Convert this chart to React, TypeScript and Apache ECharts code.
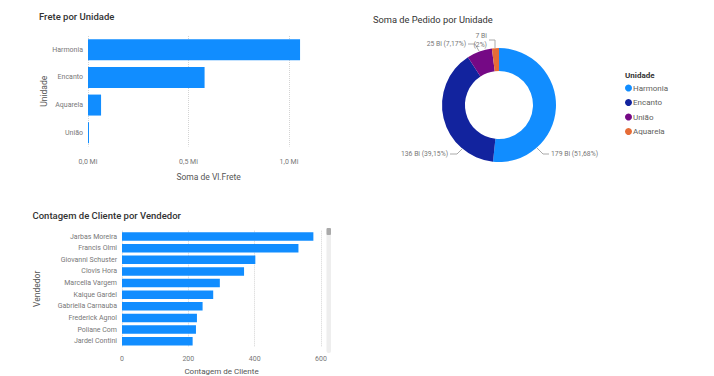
import React, { useEffect, useRef } from 'react';
import * as echarts from 'echarts';

// ---- Data ----
const unidades = ['Harmonia', 'Encanto', 'Aquarela', 'União'];
const freteMi = [1.055, 0.58, 0.065, 0.005];
const freteTicks = [0, 0.5, 1.0];

const pieUnidades = ['Harmonia', 'Encanto', 'União', 'Aquarela'];
const pedidoBi = [179.0, 135.6, 24.84, 6.93];
const pieColors = ['#118DFF', '#12239E', '#750985', '#E66C37'];

const vendedores = [
  'Jarbas Moreira', 'Francis Olmi', 'Giovanni Schuster', 'Clovis Hora', 'Marcella Vargem',
  'Kaique Gardel', 'Gabriella Carnauba', 'Frederick Agnol', 'Poliane Com', 'Jardel Contini',
];
const clientes = [577, 532, 402, 368, 295, 275, 243, 226, 223, 213];

const FONT = 'Roboto, "Noto Sans", sans-serif';
const BAR = '#118DFF';
const TICK = '#777777';
const NAME = '#555555';
const TITLE = '#333333';

const total = pedidoBi.reduce((a, b) => a + b, 0);
const pctText = (v: number) => {
  let s = ((v / total) * 100).toFixed(2);
  s = s.replace(/\.?0+$/, '');
  return s.replace('.', ',') + '%';
};

// label placement for the donut (style, not data)
const pieLabelLayout = [
  { x: 551, y: 154, align: 'left', line: [[537, 148], [543, 154], [549, 154]] },
  { x: 448, y: 154, align: 'right', line: [[462, 149], [457, 154], [450, 154]] },
  { x: 466, y: 44, align: 'right', line: [[479, 51], [475, 44], [468, 44]] },
  { x: 487, y: 40, align: 'right', line: [[495, 48], [495, 40], [489, 40]] },
];

export default function App() {
  const ref = useRef<HTMLDivElement>(null);
  useEffect(() => {
    if (!ref.current) return;
    const chart = echarts.init(ref.current, undefined, { renderer: 'svg' });
    const option: any = {
      animation: false,
      backgroundColor: '#ffffff',
      textStyle: { fontFamily: FONT },
      title: [
        { text: 'Frete por Unidade', left: 39, top: 11, padding: 0, textStyle: { fontSize: 9.5, fontWeight: 500, color: TITLE, fontFamily: FONT } },
        { text: 'Soma de Pedido por Unidade', left: 373, top: 15, padding: 0, textStyle: { fontSize: 9.3, fontWeight: 'normal', color: TITLE, fontFamily: FONT } },
        { text: 'Contagem de Cliente por Vendedor', left: 32.5, top: 210, padding: 0, textStyle: { fontSize: 9.5, fontWeight: 500, color: TITLE, fontFamily: FONT } },
        { text: 'Unidade', left: 625, top: 71.5, padding: 0, textStyle: { fontSize: 8, fontWeight: 'bold', color: TITLE, fontFamily: FONT } },
      ],
      legend: {
        orient: 'vertical',
        left: 625,
        top: 84,
        padding: 0,
        icon: 'circle',
        itemWidth: 7,
        itemHeight: 7,
        itemGap: 6.5,
        data: pieUnidades,
        textStyle: { fontSize: 8, color: '#605E5C', fontFamily: FONT, padding: [0, 0, 0, -4] },
      },
      grid: [
        { left: 88, right: 714 - 329.2, top: 36, bottom: 376 - 146.5, containLabel: false },
        { left: 122, right: 714 - 321, top: 230.7, bottom: 376 - 350, containLabel: false },
      ],
      xAxis: [
        {
          gridIndex: 0, type: 'value', min: 0, max: 1.2, interval: 0.5,
          name: 'Soma de Vl.Frete', nameLocation: 'middle', nameGap: 26,
          nameTextStyle: { fontSize: 8.5, color: NAME, fontFamily: FONT },
          axisLine: { show: false }, axisTick: { show: false },
          axisLabel: {
            fontSize: 7, color: TICK, margin: 12, fontFamily: FONT, showMaxLabel: false,
            formatter: (v: number) => (freteTicks.some((t) => Math.abs(t - v) < 1e-9) ? v.toFixed(1).replace('.', ',') + ' Mi' : ''),
          },
          splitLine: { show: true, showMaxLine: false, lineStyle: { type: 'dotted', color: '#d4d4d4', width: 1 } },
        },
        {
          gridIndex: 1, type: 'value', min: 0, max: 600, interval: 200,
          name: 'Contagem de Cliente', nameLocation: 'middle', nameGap: 20,
          nameTextStyle: { fontSize: 8, color: NAME, fontFamily: FONT },
          axisLine: { show: false }, axisTick: { show: false },
          axisLabel: { fontSize: 7, color: TICK, margin: 8, fontFamily: FONT },
          splitLine: { show: true, lineStyle: { type: 'dotted', color: '#d4d4d4', width: 1 } },
        },
      ],
      yAxis: [
        {
          gridIndex: 0, type: 'category', data: unidades, inverse: true,
          name: 'Unidade', nameLocation: 'middle', nameGap: 40, nameRotate: 90,
          nameTextStyle: { fontSize: 8.5, color: NAME, fontFamily: FONT },
          axisLine: { show: false }, axisTick: { show: false },
          axisLabel: { fontSize: 7, color: TICK, margin: 5, fontFamily: FONT },
        },
        {
          gridIndex: 1, type: 'category', data: vendedores, inverse: true,
          name: 'Vendedor', nameLocation: 'middle', nameGap: 81, nameRotate: 90,
          nameTextStyle: { fontSize: 8.5, color: NAME, fontFamily: FONT },
          axisLine: { show: false }, axisTick: { show: false },
          axisLabel: { fontSize: 7, color: TICK, margin: 5, fontFamily: FONT },
        },
      ],
      series: [
        {
          type: 'bar', xAxisIndex: 0, yAxisIndex: 0, data: freteMi,
          barCategoryGap: '24%', itemStyle: { color: BAR },
        },
        {
          type: 'bar', xAxisIndex: 1, yAxisIndex: 1, data: clientes,
          barCategoryGap: '27%', itemStyle: { color: BAR },
        },
        {
          type: 'pie',
          center: [499, 105],
          radius: [34, 57],
          startAngle: 90,
          clockwise: true,
          avoidLabelOverlap: false,
          data: pieUnidades.map((n, i) => ({ name: n, value: pedidoBi[i], itemStyle: { color: pieColors[i] } })),
          label: {
            show: true,
            fontSize: 6.8,
            lineHeight: 9,
            color: TICK,
            fontFamily: FONT,
            formatter: (p: any) => {
              const v = Math.round(p.value) + ' Bi';
              const pc = '(' + pctText(p.value) + ')';
              return p.dataIndex === 3 ? v + '\n' + pc : v + ' ' + pc;
            },
          },
          labelLine: { show: true, lineStyle: { color: '#aaaaaa', width: 1 } },
          labelLayout: (params: any) => {
            const l = pieLabelLayout[params.dataIndex];
            return {
              x: l.x, y: l.y, align: l.align, verticalAlign: 'middle',
              labelLinePoints: l.line,
            };
          },
        },
      ],
      graphic: [
        { type: 'rect', shape: { x: 326.5, y: 228, width: 4.5, height: 125, r: 2 }, style: { fill: '#eeeeee' } },
        { type: 'rect', shape: { x: 326.5, y: 228, width: 4.5, height: 7, r: 1 }, style: { fill: '#aaaaaa' } },
      ],
    };
    chart.setOption(option);
    return () => chart.dispose();
  }, []);
  return <div ref={ref} style={{ position: 'fixed', left: 0, top: 0, width: 714, height: 376 }} />;
}
